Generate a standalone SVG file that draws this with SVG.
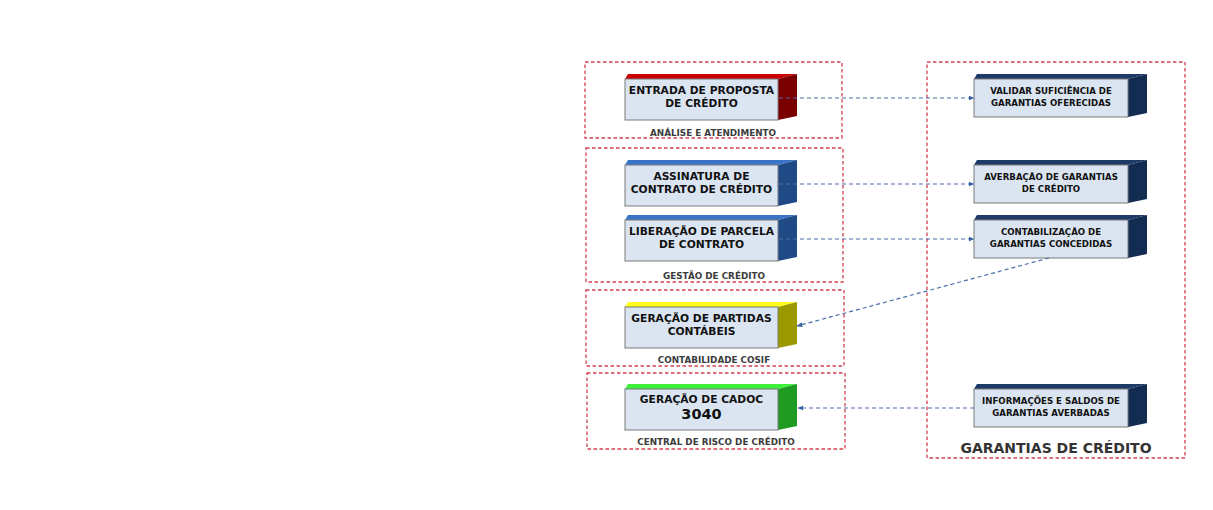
<svg xmlns="http://www.w3.org/2000/svg" width="1213" height="510" viewBox="0 0 1213 510">
<style>
.cont{fill:none;stroke:#d2404f;stroke-width:1.3;stroke-dasharray:3.5,2.5}
.front{fill:#dbe5f1;stroke:#7a7a7a;stroke-width:1}
.t{font-family:"DejaVu Sans",Verdana,sans-serif;font-weight:bold;fill:#111;text-anchor:middle;dominant-baseline:central}
.tl{font-size:10.7px}
.tr{font-size:8.6px}
.lab{font-family:"DejaVu Sans",Verdana,sans-serif;font-weight:bold;fill:#3c3c3c;text-anchor:middle;font-size:8.8px;dominant-baseline:central}
.conn{fill:none;stroke:#4a6ea8;stroke-width:1.2;stroke-dasharray:4,3}
.red-top{fill:#c80000}.red-side{fill:#7a0000}
.blue-top{fill:#3a74c8}.blue-side{fill:#1f4a86}
.yel-top{fill:#ffff1a}.yel-side{fill:#9a9a00}
.grn-top{fill:#3cf03c}.grn-side{fill:#1f9a22}
.navy-top{fill:#1e3a66}.navy-side{fill:#132c52}
</style>
<defs>
<marker id="arr" viewBox="0 0 10 10" refX="9" refY="5" markerWidth="6" markerHeight="6" orient="auto" markerUnits="userSpaceOnUse">
<path d="M0,1 L10,5 L0,9 z" fill="#3a62a6"/>
</marker>
</defs>
<rect width="1213" height="510" fill="#ffffff"/>

<g id="containers">
<g id="c-analise"><rect class="cont" x="585" y="62" width="257" height="76"/><text class="lab" x="713" y="133">ANÁLISE E ATENDIMENTO</text></g>
<g id="c-gestao"><rect class="cont" x="586" y="148" width="257" height="134"/><text class="lab" x="714" y="276">GESTÃO DE CRÉDITO</text></g>
<g id="c-cosif"><rect class="cont" x="586" y="290" width="258" height="76"/><text class="lab" x="714" y="360">CONTABILIDADE COSIF</text></g>
<g id="c-central"><rect class="cont" x="587" y="373" width="258" height="76"/><text class="lab" x="716" y="442">CENTRAL DE RISCO DE CRÉDITO</text></g>
<g id="c-garantias"><rect class="cont" x="927" y="62" width="258" height="396"/><text x="1056" y="448" font-family="'DejaVu Sans',Verdana,sans-serif" font-weight="bold" font-size="14px" fill="#333" text-anchor="middle" dominant-baseline="central">GARANTIAS DE CRÉDITO</text></g>
</g>

<g id="n-entrada">
<polygon class="red-top" points="625,79 628,74 797,74 778,79"/>
<polygon class="red-side" points="778,79 797,74 797,116 778,120"/>
<rect class="front" x="625" y="79" width="153" height="41"/>
<text class="t tl" x="701.5" y="90.7">ENTRADA DE PROPOSTA</text>
<text class="t tl" x="701.5" y="103.3">DE CRÉDITO</text>
</g>

<g id="n-assinatura">
<polygon class="blue-top" points="625,165 628,160 797,160 778,165"/>
<polygon class="blue-side" points="778,165 797,160 797,202 778,206"/>
<rect class="front" x="625" y="165" width="153" height="41"/>
<text class="t tl" x="701.5" y="176.7">ASSINATURA DE</text>
<text class="t tl" x="701.5" y="189.3">CONTRATO DE CRÉDITO</text>
</g>

<g id="n-liberacao">
<polygon class="blue-top" points="625,220 628,215 797,215 778,220"/>
<polygon class="blue-side" points="778,220 797,215 797,257 778,261"/>
<rect class="front" x="625" y="220" width="153" height="41"/>
<text class="t tl" x="701.5" y="231.7">LIBERAÇÃO DE PARCELA</text>
<text class="t tl" x="701.5" y="244.3">DE CONTRATO</text>
</g>

<g id="n-partidas">
<polygon class="yel-top" points="625,307 628,302 797,302 778,307"/>
<polygon class="yel-side" points="778,307 797,302 797,344 778,348"/>
<rect class="front" x="625" y="307" width="153" height="41"/>
<text class="t tl" x="701.5" y="318.7">GERAÇÃO DE PARTIDAS</text>
<text class="t tl" x="701.5" y="331.3">CONTÁBEIS</text>
</g>

<g id="n-cadoc">
<polygon class="grn-top" points="625,389 628,384 797,384 778,389"/>
<polygon class="grn-side" points="778,389 797,384 797,426 778,430"/>
<rect class="front" x="625" y="389" width="153" height="41"/>
<text class="t tl" x="701.5" y="399.5">GERAÇÃO DE CADOC</text>
<text class="t" x="701.5" y="413.5" font-size="14.5px">3040</text>
</g>

<g id="n-validar">
<polygon class="navy-top" points="974,79 977,74 1147,74 1128,79"/>
<polygon class="navy-side" points="1128,79 1147,74 1147,113 1128,117"/>
<rect class="front" x="974" y="79" width="154" height="38"/>
<text class="t tr" x="1051" y="91">VALIDAR SUFICIÊNCIA DE</text>
<text class="t tr" x="1051" y="103">GARANTIAS OFERECIDAS</text>
</g>

<g id="n-averbacao">
<polygon class="navy-top" points="974,165 977,160 1147,160 1128,165"/>
<polygon class="navy-side" points="1128,165 1147,160 1147,199 1128,203"/>
<rect class="front" x="974" y="165" width="154" height="38"/>
<text class="t tr" x="1051" y="177">AVERBAÇÃO DE GARANTIAS</text>
<text class="t tr" x="1051" y="189">DE CRÉDITO</text>
</g>

<g id="n-contabilizacao">
<polygon class="navy-top" points="974,220 977,215 1147,215 1128,220"/>
<polygon class="navy-side" points="1128,220 1147,215 1147,254 1128,258"/>
<rect class="front" x="974" y="220" width="154" height="38"/>
<text class="t tr" x="1051" y="232">CONTABILIZAÇÃO DE</text>
<text class="t tr" x="1051" y="244">GARANTIAS CONCEDIDAS</text>
</g>

<g id="n-informacoes">
<polygon class="navy-top" points="974,389 977,384 1147,384 1128,389"/>
<polygon class="navy-side" points="1128,389 1147,384 1147,423 1128,427"/>
<rect class="front" x="974" y="389" width="154" height="38"/>
<text class="t tr" x="1051" y="401">INFORMAÇÕES E SALDOS DE</text>
<text class="t tr" x="1051" y="413">GARANTIAS AVERBADAS</text>
</g>

<g id="connectors">
<line class="conn" x1="779" y1="98" x2="974" y2="98" marker-end="url(#arr)"/>
<line class="conn" x1="779" y1="184" x2="974" y2="184" marker-end="url(#arr)"/>
<line class="conn" x1="779" y1="239" x2="974" y2="239" marker-end="url(#arr)"/>
<line class="conn" x1="1049" y1="258" x2="797" y2="326" marker-end="url(#arr)"/>
<line class="conn" x1="974" y1="408" x2="798" y2="408" marker-end="url(#arr)"/>
</g>
</svg>
